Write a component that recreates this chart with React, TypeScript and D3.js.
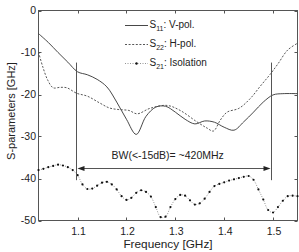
import React from 'react';
import * as d3 from 'd3';

// S11 (V-pol), solid
const s11Freq = [1.02, 1.04, 1.06, 1.08, 1.10, 1.12, 1.14, 1.16, 1.18, 1.20, 1.22, 1.24, 1.26, 1.28, 1.30, 1.32, 1.34, 1.36, 1.38, 1.40, 1.42, 1.44, 1.46, 1.48, 1.50, 1.52, 1.55];
const s11Db = [-5.5, -7.6, -10.0, -12.3, -14.6, -15.3, -16.4, -18.2, -21.8, -25.9, -29.5, -25.2, -23.0, -22.8, -24.2, -25.9, -27.0, -26.3, -26.6, -27.8, -28.5, -26.5, -24.2, -21.8, -20.1, -19.8, -19.8];

// S22 (H-pol), dashed
const s22Freq = [1.02, 1.029, 1.039, 1.05, 1.064, 1.078, 1.098, 1.12, 1.145, 1.165, 1.185, 1.205, 1.222, 1.248, 1.283, 1.31, 1.344, 1.365, 1.378, 1.392, 1.406, 1.43, 1.453, 1.474, 1.494, 1.51, 1.53, 1.55];
const s22Db = [-9.9, -13.5, -16.6, -18.4, -18.3, -18.4, -19.7, -20.4, -22.0, -23.2, -23.6, -23.8, -24.6, -23.3, -22.6, -23.8, -26.5, -28.0, -28.7, -26.1, -24.2, -23.3, -21.0, -18.0, -15.2, -12.7, -9.4, -7.8];

// S21 (isolation), dotted with markers
const s21Freq = [1.02, 1.03, 1.04, 1.05, 1.06, 1.07, 1.08, 1.09, 1.10, 1.11, 1.12, 1.13, 1.14, 1.15, 1.16, 1.17, 1.18, 1.19, 1.20, 1.21, 1.22, 1.23, 1.24, 1.25, 1.26, 1.27, 1.28, 1.29, 1.30, 1.31, 1.32, 1.33, 1.34, 1.35, 1.36, 1.37, 1.38, 1.39, 1.40, 1.41, 1.42, 1.43, 1.44, 1.45, 1.46, 1.47, 1.48, 1.49, 1.50, 1.51, 1.52, 1.53, 1.54, 1.55];
const s21Db = [-38.0, -37.7, -37.3, -37.0, -36.7, -36.9, -37.3, -38.0, -39.2, -41.4, -42.5, -42.4, -41.7, -41.0, -40.8, -41.4, -42.6, -44.2, -45.1, -44.6, -43.4, -42.8, -43.2, -44.3, -46.8, -49.2, -49.1, -46.8, -44.9, -43.9, -44.1, -45.2, -46.2, -45.9, -44.8, -43.2, -41.8, -41.3, -40.9, -40.5, -40.2, -39.9, -39.6, -39.4, -40.3, -42.6, -45.0, -47.5, -48.1, -46.8, -45.3, -44.2, -44.1, -44.2];

const xTicks = [1.1, 1.2, 1.3, 1.4, 1.5];
const yTicks = [0, -10, -20, -30, -40, -50];

// bandwidth marker
const bwFreq = [1.096, 1.495];
const bwTopDb = -12.4;
const bwBottomDb = -40.4;
const bwArrowDb = -37.6;
const bwLabel = 'BW(<-15dB)= ~420MHz';

const legendItems = [
  { sub: '11', text: ': V-pol.', style: 'solid' },
  { sub: '22', text: ': H-pol.', style: 'dash' },
  { sub: '21', text: ': Isolation', style: 'dot' },
];

const FONT = '"Liberation Sans", Arial, Helvetica, sans-serif';

class App extends React.Component {
  chart = React.createRef<HTMLDivElement>();

  componentDidMount() {
    document.body.style.margin = '0';
    this.buildChart();
  }

  buildChart() {
    const width = 299, height = 252;
    const left = 38.5, right = 297.5, top = 10.5, bottom = 220.5;

    d3.select(this.chart.current).selectAll('svg').remove();
    const svg = d3.select(this.chart.current)
      .append('svg')
      .attr('width', width)
      .attr('height', height)
      .style('display', 'block')
      .style('background', '#fff')
      .style('font-family', FONT);

    const x = d3.scaleLinear().domain([1.02, 1.55]).range([left, right]);
    const y = d3.scaleLinear().domain([-50, 0]).range([bottom, top]);

    const axisColor = '#555';
    const textColor = '#222';

    // ticks, pointing inward on all four sides
    const tl = 3;
    xTicks.forEach(t => {
      const px = Math.round(x(t)) + 0.5;
      svg.append('line').attr('x1', px).attr('x2', px).attr('y1', bottom).attr('y2', bottom - tl).attr('stroke', axisColor);
      svg.append('line').attr('x1', px).attr('x2', px).attr('y1', top).attr('y2', top + tl).attr('stroke', axisColor);
      svg.append('text')
        .attr('x', x(t) + 1)
        .attr('y', 235)
        .attr('text-anchor', 'middle')
        .attr('font-size', 10.5)
        .attr('fill', textColor)
        .text(d3.format('.1f')(t));
    });
    yTicks.forEach(t => {
      const py = Math.round(y(t)) + 0.5;
      svg.append('line').attr('x1', left).attr('x2', left + tl).attr('y1', py).attr('y2', py).attr('stroke', axisColor);
      svg.append('line').attr('x1', right).attr('x2', right - tl).attr('y1', py).attr('y2', py).attr('stroke', axisColor);
      svg.append('text')
        .attr('x', 36)
        .attr('y', y(t) + 3.8)
        .attr('text-anchor', 'end')
        .attr('font-size', 10.5)
        .attr('fill', textColor)
        .text(t === 0 ? '0' : String(t));
    });

    // frame
    svg.append('rect')
      .attr('x', left).attr('y', top)
      .attr('width', right - left).attr('height', bottom - top)
      .attr('fill', 'none').attr('stroke', axisColor);

    // axis titles
    svg.append('text')
      .attr('x', (left + right) / 2)
      .attr('y', 248)
      .attr('text-anchor', 'middle')
      .attr('font-size', 11.8)
      .attr('fill', textColor)
      .text('Frequency [GHz]');
    svg.append('text')
      .attr('transform', 'translate(15,111) rotate(-90)')
      .attr('text-anchor', 'middle')
      .attr('font-size', 11)
      .attr('fill', textColor)
      .text('S-parameters [GHz]');

    const line = d3.line<[number, number]>()
      .x(d => x(d[0]))
      .y(d => y(d[1]))
      .curve(d3.curveCatmullRom);

    const s11 = s11Freq.map((f, i) => [f, s11Db[i]] as [number, number]);
    const s22 = s22Freq.map((f, i) => [f, s22Db[i]] as [number, number]);
    const s21 = s21Freq.map((f, i) => [f, s21Db[i]] as [number, number]);

    svg.append('path').datum(s11)
      .attr('d', line)
      .attr('fill', 'none')
      .attr('stroke', '#333')
      .attr('stroke-width', 0.9);

    svg.append('path').datum(s22)
      .attr('d', line)
      .attr('fill', 'none')
      .attr('stroke', '#444')
      .attr('stroke-width', 0.9)
      .attr('stroke-dasharray', '2,1.6');

    svg.append('path').datum(s21)
      .attr('d', line)
      .attr('fill', 'none')
      .attr('stroke', '#666')
      .attr('stroke-width', 0.7)
      .attr('stroke-dasharray', '1,1.5');
    svg.selectAll('.s21dot').data(s21)
      .enter().append('circle')
      .attr('class', 's21dot')
      .attr('cx', d => x(d[0]))
      .attr('cy', d => y(d[1]))
      .attr('r', 1.1)
      .attr('fill', '#111');

    // bandwidth annotation
    bwFreq.forEach(f => {
      const px = Math.round(x(f)) + 0.5;
      svg.append('line')
        .attr('x1', px).attr('x2', px)
        .attr('y1', y(bwTopDb)).attr('y2', y(bwBottomDb))
        .attr('stroke', '#555');
    });
    const ay = Math.round(y(bwArrowDb)) + 0.5;
    const ax0 = Math.round(x(bwFreq[0])) + 0.5;
    const ax1 = Math.round(x(bwFreq[1])) + 0.5;
    svg.append('line')
      .attr('x1', ax0 + 6).attr('x2', ax1 - 6)
      .attr('y1', ay).attr('y2', ay)
      .attr('stroke', '#555');
    svg.append('path')
      .attr('d', `M${ax0 + 1},${ay} L${ax0 + 8},${ay - 2.6} L${ax0 + 8},${ay + 2.6} Z`)
      .attr('fill', '#222');
    svg.append('path')
      .attr('d', `M${ax1 - 1},${ay} L${ax1 - 8},${ay - 2.6} L${ax1 - 8},${ay + 2.6} Z`)
      .attr('fill', '#222');
    svg.append('text')
      .attr('x', 111.5)
      .attr('y', 159)
      .attr('font-size', 10.5)
      .attr('fill', textColor)
      .text(bwLabel);

    // legend
    const lx0 = 125, lx1 = 148;
    legendItems.forEach((item, i) => {
      const ly = 25.5 + i * 19;
      const l = svg.append('line')
        .attr('x1', lx0).attr('x2', lx1)
        .attr('y1', ly).attr('y2', ly)
        .attr('stroke', item.style === 'dot' ? '#666' : '#333')
        .attr('stroke-width', item.style === 'dot' ? 0.7 : 0.9);
      if (item.style === 'dash') l.attr('stroke-dasharray', '2,1.6').attr('stroke', '#444');
      if (item.style === 'dot') {
        l.attr('stroke-dasharray', '1,1.5');
        svg.append('circle').attr('cx', (lx0 + lx1) / 2).attr('cy', ly).attr('r', 1.2).attr('fill', '#111');
      }
      const t = svg.append('text')
        .attr('x', 149.5)
        .attr('y', ly + 2.5)
        .attr('font-size', 10)
        .attr('fill', textColor);
      t.append('tspan').text('S');
      t.append('tspan').attr('dy', 3).attr('font-size', 7).text(item.sub);
      t.append('tspan').attr('dy', -3).text(item.text);
    });
  }

  render() {
    return <div ref={this.chart}></div>;
  }
}

export default App;
